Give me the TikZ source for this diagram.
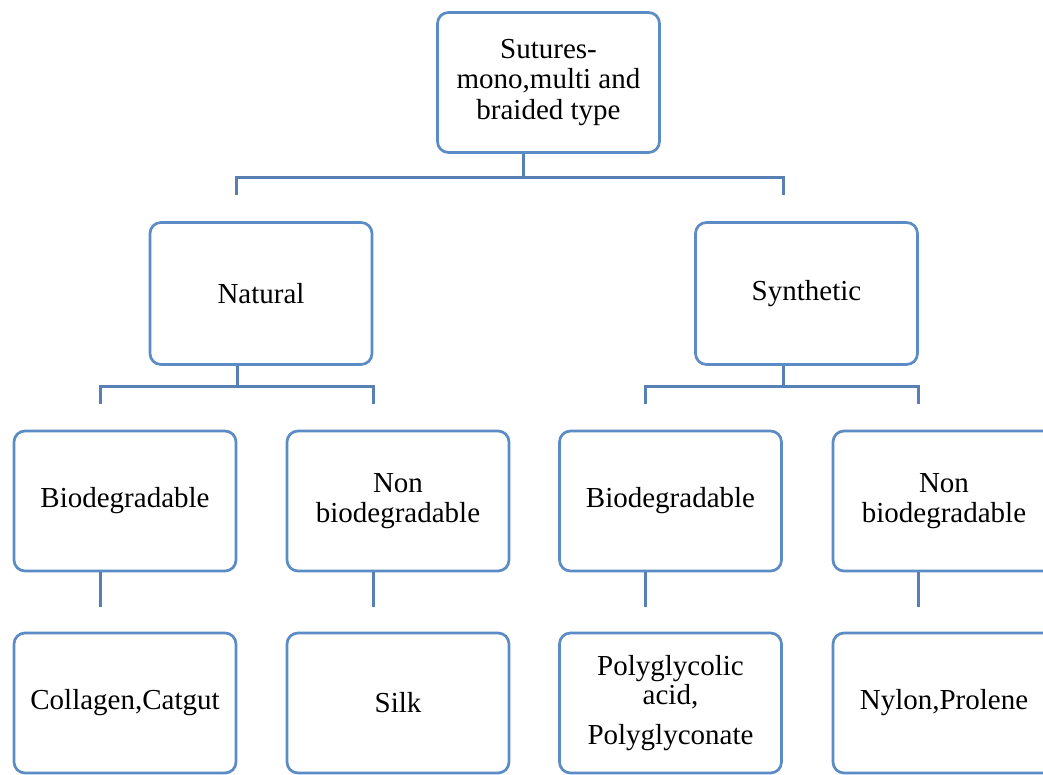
\documentclass[tikz,border=0pt]{standalone}
\usepackage{fontspec}
\setmainfont{Liberation Serif}
\begin{document}
\begin{tikzpicture}[x=1pt,y=-1pt,
  box/.style={draw=boxblue, line width=2.7pt, rounded corners=11pt, fill=white,
    minimum width=222pt, minimum height=140pt, align=center, inner sep=0pt,
    font=\fontsize{29}{30.5}\selectfont, text=black},
  conn/.style={draw=lineblue, line width=3pt}]
\definecolor{boxblue}{RGB}{92,140,198}
\definecolor{lineblue}{RGB}{88,128,180}
\useasboundingbox (0,0) rectangle (1043,775);
\clip (0,0) rectangle (1043,775);
\fill[white] (0,0) rectangle (1043,775);
% nodes
\node[box] (top) at (548.5,82.5) {Sutures-\\mono,multi and\\braided type};
\node[box, minimum height=142pt] (nat) at (261,293.5) {Natural};
\node[box, minimum height=142pt] (syn) at (806.5,293.5) {Synthetic};
\node[box] (bioL) at (125,501) {Biodegradable};
\node[box] (nbL) at (398,501) {Non\\biodegradable};
\node[box] (bioR) at (670.5,501) {Biodegradable};
\node[box] (nbR) at (944,501) {Non\\biodegradable};
\node[box] (col) at (125,703) {Collagen,Catgut};
\node[box] (silk) at (398,703) {Silk};
\node[box] (pga) at (670.5,703) {\raisebox{-5pt}{\shortstack{Polyglycolic\\acid,\\[12pt]Polyglyconate}}};
\node[box] (nyl) at (944,703) {Nylon,Prolene};
% bus levels
\coordinate (b1) at (0,178);
\coordinate (b2) at (0,386);
% top to level 2
\draw[conn] ([xshift=-25pt]top.south) -- ([xshift=-25pt]top.south |- b1);
\draw[conn] ([xshift=-25pt,yshift=26pt]nat.north) -- ([xshift=-25pt]nat.north |- b1)
  -- ([xshift=-23pt]syn.north |- b1) -- ([xshift=-23pt,yshift=26pt]syn.north);
% level 2 to level 3
\draw[conn] ([xshift=-24pt]nat.south) -- ([xshift=-24pt]nat.south |- b2);
\draw[conn] ([xshift=-25pt,yshift=26pt]bioL.north) -- ([xshift=-25pt]bioL.north |- b2)
  -- ([xshift=-25pt]nbL.north |- b2) -- ([xshift=-25pt,yshift=26pt]nbL.north);
\draw[conn] ([xshift=-23pt]syn.south) -- ([xshift=-23pt]syn.south |- b2);
\draw[conn] ([xshift=-25pt,yshift=26pt]bioR.north) -- ([xshift=-25pt]bioR.north |- b2)
  -- ([xshift=-26pt]nbR.north |- b2) -- ([xshift=-26pt,yshift=26pt]nbR.north);
% level 3 to level 4
\draw[conn] ([xshift=-25pt]bioL.south) -- ([xshift=-25pt,yshift=25pt]col.north);
\draw[conn] ([xshift=-25pt]nbL.south) -- ([xshift=-25pt,yshift=25pt]silk.north);
\draw[conn] ([xshift=-25pt]bioR.south) -- ([xshift=-25pt,yshift=25pt]pga.north);
\draw[conn] ([xshift=-26pt]nbR.south) -- ([xshift=-26pt,yshift=25pt]nyl.north);
\end{tikzpicture}
\end{document}
